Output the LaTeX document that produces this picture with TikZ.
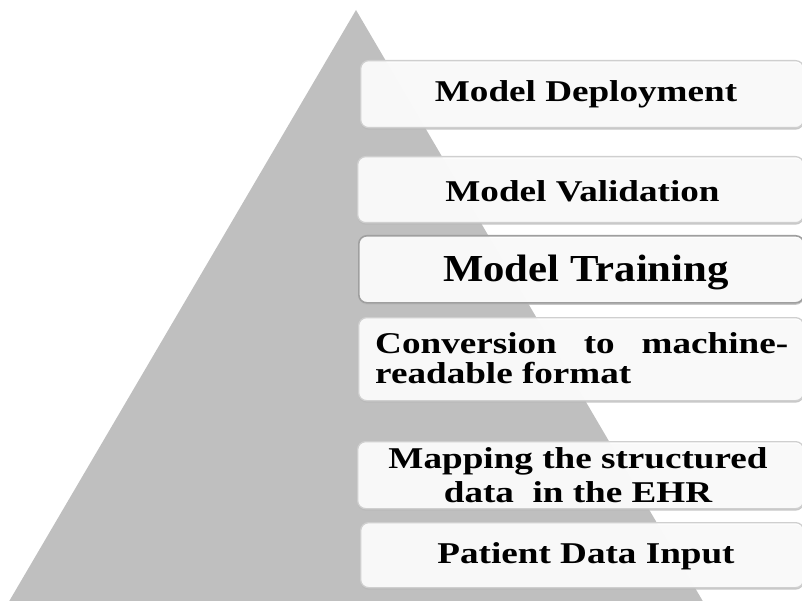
\documentclass[tikz,border=0pt]{standalone}
\usepackage{fontspec}
\setmainfont{Liberation Serif}
\newfontfamily\widefont[FakeStretch=1.23]{Liberation Serif}
\newfontfamily\midfont[FakeStretch=1.12]{Liberation Serif}
\usetikzlibrary{shadows}
\definecolor{trigray}{HTML}{BFBFBF}
\tikzset{
  stagebox/.style={draw=gray!38, line width=1.3pt, fill=white, fill opacity=0.9,
    rounded corners=8pt, inner sep=0pt, anchor=north west,
    drop shadow={shadow xshift=0pt, shadow yshift=-2pt, fill=gray!55, opacity=0.8}},
  strongbox/.style={stagebox, draw=gray!75, line width=1.6pt},
  lbl/.style={inner sep=0pt, anchor=base, text=black,
    font=\widefont\bfseries\fontsize{30.2}{30.6}\selectfont},
}
\begin{document}
\begin{tikzpicture}[x=1pt,y=-1pt]
\useasboundingbox (0,0) rectangle (802,601);
\begin{scope}
\clip (0,0) rectangle (802,601);
\fill[trigray] (356,10) -- (708,610) -- (4,610) -- cycle;
\node[stagebox, minimum width=443pt, minimum height=67pt] (b1) at (360,60) {};
\node[stagebox, minimum width=446pt, minimum height=66pt] (b2) at (357,156) {};
\node[strongbox, minimum width=445pt, minimum height=67pt] (b3) at (358,235) {};
\node[stagebox, minimum width=445pt, minimum height=83pt] (b4) at (358,317) {};
\node[stagebox, minimum width=446pt, minimum height=67pt] (b5) at (357,441) {};
\node[stagebox, minimum width=443pt, minimum height=65pt] (b6) at (360,522) {};
\end{scope}
\node[lbl] (t1) at (586,102) {Model Deployment};
\node[lbl] (t2) at (582.5,202) {Model Validation};
\node[lbl, font=\midfont\bfseries\fontsize{38.2}{40}\selectfont] (t3) at (586,282) {Model Training};
\node[lbl, anchor=base west] (t4) at (375,353)
  {\parbox[t]{413pt}{\widefont\bfseries\fontsize{30.2}{30.6}\selectfont\hbadness=10000
   Conversion to machine-\linebreak readable format}};
\node[lbl] (t5) at (578,468)
  {\parbox[t]{420pt}{\centering\widefont\bfseries\fontsize{30.2}{34}\selectfont
   Mapping the structured\\ data\ \ in the EHR}};
\node[lbl] (t6) at (586,563) {Patient Data Input};
\end{tikzpicture}
\end{document}
